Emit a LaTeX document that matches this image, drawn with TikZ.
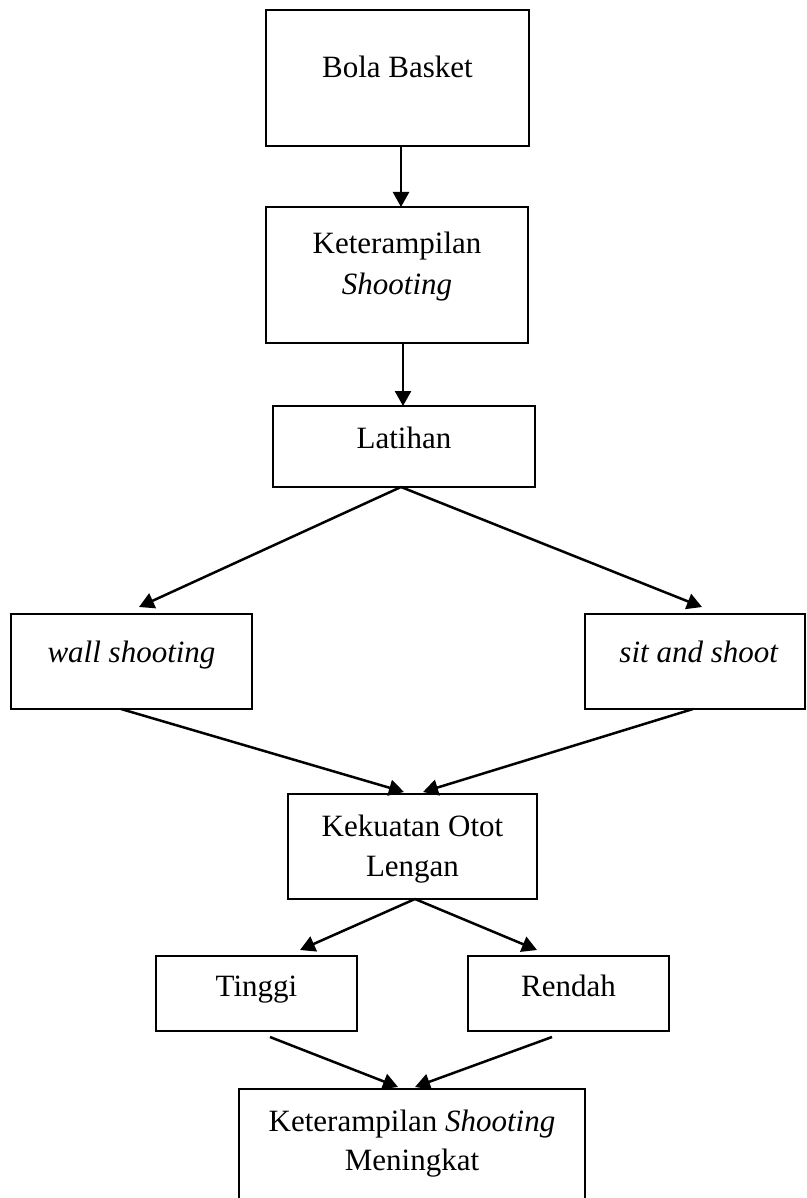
\documentclass[tikz,border=0pt]{standalone}
\usepackage{fontspec}
\setmainfont{Liberation Serif}
\usetikzlibrary{arrows.meta,calc}
\begin{document}
\begin{tikzpicture}[x=1pt,y=-1pt,
  box/.style={draw=black,line width=2.5pt,inner sep=0pt,outer sep=0pt,fill=none},
  txt/.style={inner sep=0pt,outer sep=0pt,align=center,font=\fontsize{31}{40}\selectfont,anchor=base},
  arr/.style={line width=2.5pt,-{Triangle[length=15pt,width=16pt]}}]
\useasboundingbox (0,0) rectangle (806,1198);
\fill[white] (0,0) rectangle (806,1198);
% boxes
\node[box,minimum width=263pt,minimum height=136pt] (b1) at (397.5,78) {};
\node[box,minimum width=262pt,minimum height=136pt] (b2) at (397,275) {};
\node[box,minimum width=262pt,minimum height=81pt] (b3) at (404,446.5) {};
\node[box,minimum width=241pt,minimum height=95pt] (b4) at (131.5,661.5) {};
\node[box,minimum width=220pt,minimum height=95pt] (b5) at (695,661.5) {};
\node[box,minimum width=249pt,minimum height=105pt] (b6) at (412.5,846.5) {};
\node[box,minimum width=201pt,minimum height=75pt] (b7) at (256.5,993.5) {};
\node[box,minimum width=201pt,minimum height=75pt] (b8) at (568.5,993.5) {};
\node[box,minimum width=346pt,minimum height=124pt] (b9) at (412,1151) {};
% texts
\node[txt] (t1) at (397.5,78) {Bola Basket};
\node[txt] (t2a) at (397,254) {Keterampilan};
\node[txt] (t2b) at (397,294) {\textit{Shooting}};
\node[txt] (t3) at (404,448) {Latihan};
\node[txt] (t4) at (131.5,662) {\textit{wall shooting}};
\node[txt] (t5) at (699,662) {\textit{sit and shoot}};
\node[txt] (t6a) at (412.5,836) {Kekuatan Otot};
\node[txt] (t6b) at (412.5,876) {Lengan};
\node[txt] (t7) at (256.5,996) {Tinggi};
\node[txt] (t8) at (568.5,996) {Rendah};
\node[txt] (t9a) at (412,1131) {Keterampilan \textit{Shooting}};
\node[txt] (t9b) at (412,1170) {Meningkat};
% connector ends
\coordinate (c1) at ([xshift=3.5pt]b1.south);
\coordinate (c2) at ([xshift=4pt]b2.north);
\coordinate (c3) at ([xshift=6pt]b2.south);
\coordinate (c4) at ([xshift=-1pt]b3.north);
\coordinate (c5) at ([xshift=-3pt]b3.south);
\coordinate (c6) at ([xshift=7.5pt,yshift=7pt]b4.north);
\coordinate (c7) at ([xshift=7pt,yshift=7pt]b5.north);
\coordinate (c8) at ([xshift=-10.5pt]b4.south);
\coordinate (c9) at ([xshift=-2pt]b5.south);
\coordinate (c10) at ([xshift=-8.5pt,yshift=2pt]b6.north);
\coordinate (c11) at ([xshift=10.5pt,yshift=2pt]b6.north);
\coordinate (c12) at ([xshift=2.5pt]b6.south);
\coordinate (c13) at ([xshift=43.5pt,yshift=6pt]b7.north);
\coordinate (c14) at ([xshift=-31.5pt,yshift=6pt]b8.north);
\coordinate (c15) at ([xshift=13.5pt,yshift=-6pt]b7.south);
\coordinate (c16) at ([xshift=-16.5pt,yshift=-6pt]b8.south);
\coordinate (c17) at ([xshift=-14pt,yshift=2pt]b9.north);
\coordinate (c18) at ([xshift=3pt,yshift=2pt]b9.north);
% connectors
\draw[arr] (c1) -- (c2);
\draw[arr] (c3) -- (c4);
\draw[arr] (c5) -- (c6);
\draw[arr] (c5) -- (c7);
\draw[arr] (c8) -- (c10);
\draw[arr] (c9) -- (c11);
\draw[arr] (c12) -- (c13);
\draw[arr] (c12) -- (c14);
\draw[arr] (c15) -- (c17);
\draw[arr] (c16) -- (c18);
\end{tikzpicture}
\end{document}
